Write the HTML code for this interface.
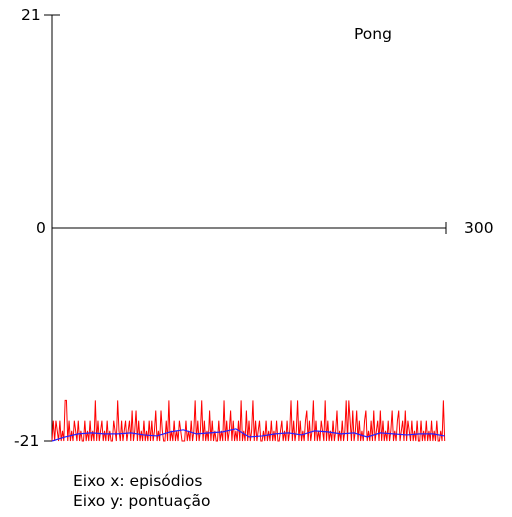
<!DOCTYPE html>
<html><head><meta charset="utf-8"><style>
body{margin:0;background:#fff}
svg text{font-family:"DejaVu Sans","Liberation Sans",sans-serif;font-size:15.5px;fill:#000}
</style></head><body>
<svg width="512" height="512">
<line x1="52" y1="15" x2="52" y2="441" stroke="#000"/>
<line x1="44" y1="15" x2="60" y2="15" stroke="#000"/>
<line x1="44" y1="441" x2="52" y2="441" stroke="#000"/>
<line x1="52" y1="228" x2="446" y2="228" stroke="#000"/>
<line x1="446" y1="222" x2="446" y2="234" stroke="#000"/>
<text x="21" y="20">21</text>
<text x="36" y="233">0</text>
<text x="14" y="446">-21</text>
<text x="464" y="233">300</text>
<text x="354" y="39">Pong</text>
<text x="73" y="486">Eixo x: episódios</text>
<text x="73" y="506">Eixo y: pontuação</text>
<g id="plot"></g>
</svg>
<script>
const rewards=[
-21,-19,-21,-19,-20,-21,-19,-21,-20,-21, -17,-17,-21,-19,-21,-20,-21,-19,-20,-21,
-19,-21,-20,-21,-21,-19,-21,-20,-21,-19, -21,-20,-21,-17,-21,-19,-21,-20,-19,-21,
-20,-21,-19,-21,-20,-21,-21,-19,-20,-21, -17,-20,-21,-19,-21,-20,-19,-21,-20,-19,
-21,-18,-21,-20,-18,-21,-19,-21,-20,-21, -19,-21,-20,-21,-19,-21,-19,-21,-20,-18,
-21,-20,-21,-18,-20,-21,-21,-19,-21,-17, -21,-20,-21,-19,-21,-20,-21,-19,-20,-21,
-21,-21,-19,-21,-20,-21,-19,-21,-20,-17, -21,-19,-21,-20,-17,-21,-19,-21,-20,-21,
-18,-21,-19,-21,-20,-21,-21,-19,-21,-20, -21,-17,-21,-19,-21,-20,-18,-21,-19,-21,
-20,-21,-19,-21,-17,-21,-20,-21,-18,-21, -19,-21,-20,-17,-21,-19,-21,-20,-19,-21,
-21,-20,-21,-19,-21,-20,-21,-19,-21,-20, -21,-19,-21,-21,-20,-19,-21,-20,-21,-19,
-21,-20,-17,-21,-19,-21,-20,-17,-21,-19, -21,-20,-21,-19,-18,-21,-19,-21,-20,-17,
-21,-19,-21,-20,-21,-19,-20,-21,-17,-21, -19,-21,-20,-21,-19,-21,-20,-18,-21,-20,
-21,-19,-21,-20,-17,-21,-17,-19,-21,-18, -21,-20,-18,-21,-19,-21,-20,-21,-19,-18,
-21,-20,-21,-19,-21,-18,-21,-20,-19,-21, -18,-21,-19,-21,-20,-21,-19,-21,-20,-18,
-21,-20,-21,-19,-18,-21,-20,-19,-21,-18, -21,-19,-20,-21,-19,-21,-20,-21,-19,-21,
-21,-19,-21,-20,-21,-19,-21,-20,-21,-19, -21,-20,-21,-19,-21,-21,-20,-21,-17,-21
];
const avgEpisodes=[0,10,20,30,40,50,60,70,80,90,100,110,120,130,140,150,160,170,180,190,200,210,220,230,240,250,260,270,280,290,299];
const avgValues=[-21,-20.6,-20.3,-20.2,-20.3,-20.3,-20.2,-20.4,-20.5,-20.1,-19.9,-20.3,-20.2,-20.1,-19.8,-20.6,-20.5,-20.3,-20.2,-20.4,-20.0,-20.1,-20.3,-20.2,-20.6,-20.2,-20.3,-20.4,-20.3,-20.3,-20.5];
const xMax=300,yMin=-21,yMax=21;
const xs=v=>52+v/xMax*394;
const ys=v=>228-v/yMax*213;
const g=document.getElementById('plot');
const ns='http://www.w3.org/2000/svg';
const red=document.createElementNS(ns,'polyline');
red.setAttribute('points',rewards.map((v,i)=>xs(i)+','+ys(v)).join(' '));
red.setAttribute('fill','none');red.setAttribute('stroke','#f00');red.setAttribute('stroke-width','1');


g.appendChild(red);
const blue=document.createElementNS(ns,'polyline');
blue.setAttribute('points',avgValues.map((v,i)=>xs(avgEpisodes[i])+','+ys(v)).join(' '));
blue.setAttribute('fill','none');blue.setAttribute('stroke','#22f');blue.setAttribute('stroke-width','1.2');


g.appendChild(blue);
</script>
</body></html>
